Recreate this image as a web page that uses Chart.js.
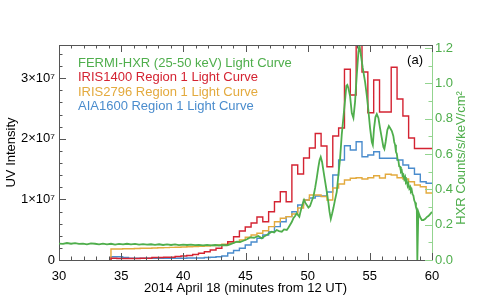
<!DOCTYPE html>
<html>
<head>
<meta charset="utf-8">
<script src="https://cdn.jsdelivr.net/npm/chart.js@4"></script>
<style>
  html, body { margin: 0; padding: 0; background: #fff; }
</style>
</head>
<body>
<canvas id="chart" width="491" height="307"></canvas>
<script>
// IRIS / AIA bin start times (minutes from 12 UT), last entry closes the final bin
const irisTimes = [34.18, 34.65, 35.12, 35.59, 36.06, 36.53, 37.00, 37.47, 37.94, 38.41,
  38.88, 39.34, 39.81, 40.28, 40.75, 41.22, 41.69, 42.16, 42.63, 43.10,
  43.57, 44.04, 44.51, 44.98, 45.45, 45.92, 46.39, 46.86, 47.33, 47.80,
  48.27, 48.73, 49.20, 49.67, 50.14, 50.61, 51.08, 51.55, 52.02, 52.49,
  52.96, 53.43, 53.90, 54.37, 54.84, 55.31, 55.78, 56.25, 56.72, 57.19,
  57.66, 58.12, 58.59, 59.06, 59.53, 60.00];

// UV intensity, units of 1e7
const iris1400 = [0.03, 0.025, 0.025, 0.025, 0.025, 0.028, 0.028, 0.041, 0.041, 0.045,
  0.045, 0.058, 0.066, 0.074, 0.091, 0.111, 0.137, 0.165, 0.193, 0.248,
  0.302, 0.384, 0.479, 0.545, 0.611, 0.710, 0.632, 0.797, 0.962, 1.127,
  0.962, 1.568, 1.419, 1.683, 1.848, 2.087, 1.881, 1.540, 2.046, 2.178,
  3.147, 2.723, 3.62, 3.102, 2.431, 2.970, 2.442, 2.442, 3.180, 2.657,
  2.376, 2.013, 1.840, 1.840, 1.840];
const iris2796 = [0.182, 0.182, 0.185, 0.186, 0.190, 0.193, 0.195, 0.198, 0.201, 0.205,
  0.208, 0.211, 0.215, 0.218, 0.223, 0.228, 0.231, 0.239, 0.248, 0.259,
  0.276, 0.297, 0.330, 0.375, 0.413, 0.441, 0.483, 0.550, 0.632, 0.688,
  0.715, 0.759, 0.858, 0.990, 1.073, 1.073, 1.048, 0.990, 1.188, 1.254,
  1.320, 1.348, 1.358, 1.337, 1.358, 1.391, 1.353, 1.414, 1.403, 1.358,
  1.337, 1.292, 1.238, 1.210, 1.106];
const aia1600 = [0.054, 0.054, 0.041, 0.028, 0.028, 0.028, 0.028, 0.028, 0.028, 0.028,
  0.028, 0.030, 0.030, 0.033, 0.033, 0.033, 0.041, 0.045, 0.053, 0.066,
  0.116, 0.157, 0.193, 0.248, 0.297, 0.358, 0.413, 0.467, 0.550, 0.632,
  0.715, 0.797, 0.908, 0.990, 1.023, 1.056, 1.056, 1.122, 1.403, 1.650,
  1.886, 1.815, 1.952, 1.705, 1.733, 1.787, 1.678, 1.678, 1.678, 1.650,
  1.568, 1.513, 1.414, 1.292, 1.266];

// FERMI HXR 25-50 keV, counts/s/keV/cm2
const hxrTimes = [30.00, 30.32, 30.64, 30.97, 31.29, 31.61, 31.93, 32.25, 32.57, 32.90,
  33.22, 33.54, 33.86, 34.18, 34.51, 34.83, 35.15, 35.47, 35.79, 36.11,
  36.44, 36.76, 37.08, 37.40, 37.72, 38.05, 38.37, 38.69, 39.01, 39.33,
  39.65, 39.98, 40.30, 40.62, 40.94, 41.26, 41.58, 41.91, 42.23, 42.55,
  42.87, 43.19, 43.52, 43.76, 44.00, 44.30, 44.56, 44.83, 45.08, 45.37,
  45.69, 46.03, 46.31, 46.49, 46.71, 46.89, 47.11, 47.30, 47.51, 47.70,
  47.92, 48.10, 48.32, 48.46, 48.58, 48.72, 48.85, 48.99, 49.12, 49.25,
  49.33, 49.43, 49.53, 49.63, 49.71, 49.82, 49.93, 50.06, 50.19, 50.33,
  50.46, 50.60, 50.73, 50.86, 50.96, 51.05, 51.16, 51.26, 51.40, 51.54,
  51.67, 51.76, 51.86, 51.96, 52.07, 52.20, 52.34, 52.47, 52.61, 52.74,
  52.87, 53.01, 53.11, 53.19, 53.27, 53.41, 53.55, 53.68, 53.81, 53.95,
  54.08, 54.16, 54.27, 54.43, 54.62, 54.75, 54.88, 55.02, 55.16, 55.24,
  55.34, 55.45, 55.56, 55.69, 55.82, 55.96, 56.09, 56.17, 56.27, 56.41,
  56.53, 56.63, 56.77, 56.89, 56.96, 57.03, 57.10, 57.17, 57.23, 57.30,
  57.36, 57.43, 57.50, 57.57, 57.63, 57.70, 57.77, 57.84, 57.90, 57.97,
  58.04, 58.10, 58.17, 58.24, 58.30, 58.37, 58.44, 58.50, 58.57, 58.64,
  58.71, 58.78, 58.82, 58.90, 59.04, 59.18, 59.31, 59.44, 59.58, 59.71,
  59.85, 60.00];
const hxrFlux = [0.093, 0.091, 0.096, 0.092, 0.095, 0.091, 0.093, 0.089, 0.094, 0.092,
  0.088, 0.093, 0.089, 0.092, 0.087, 0.091, 0.088, 0.092, 0.089, 0.091,
  0.087, 0.090, 0.087, 0.089, 0.086, 0.089, 0.085, 0.088, 0.085, 0.088,
  0.084, 0.087, 0.085, 0.087, 0.084, 0.086, 0.083, 0.086, 0.083, 0.085,
  0.082, 0.085, 0.083, 0.089, 0.095, 0.104, 0.102, 0.109, 0.116, 0.128,
  0.126, 0.136, 0.123, 0.133, 0.142, 0.150, 0.160, 0.156, 0.170, 0.164,
  0.160, 0.173, 0.170, 0.184, 0.198, 0.215, 0.236, 0.249, 0.264, 0.252,
  0.245, 0.275, 0.302, 0.325, 0.340, 0.323, 0.311, 0.297, 0.306, 0.334,
  0.358, 0.408, 0.464, 0.526, 0.566, 0.583, 0.555, 0.509, 0.447, 0.385,
  0.323, 0.272, 0.232, 0.260, 0.294, 0.340, 0.385, 0.481, 0.577, 0.708,
  0.804, 0.906, 0.985, 0.991, 0.974, 0.928, 0.832, 0.804, 0.894, 1.047,
  1.177, 1.217, 1.166, 1.087, 1.007, 0.934, 0.849, 0.747, 0.668, 0.651,
  0.747, 0.809, 0.826, 0.804, 0.747, 0.691, 0.640, 0.628, 0.668, 0.736,
  0.758, 0.747, 0.730, 0.702, 0.668, 0.652, 0.612, 0.601, 0.570, 0.562,
  0.530, 0.528, 0.500, 0.506, 0.478, 0.484, 0.458, 0.470, 0.440, 0.448,
  0.420, 0.432, 0.405, 0.414, 0.388, 0.396, 0.370, 0.366, 0.338, 0.326,
  0.300, 0.283, 0.000, 0.272, 0.243, 0.226, 0.226, 0.232, 0.243, 0.249,
  0.260, 0.272];

const GREEN = "#4fae4c";
const RED = "#d42332";
const YELLOW = "#e3aa3e";
const BLUE = "#4a8ccd";

function stepData(values) {
  // start from zero at the first bin edge, hold last value to the end
  const pts = [{ x: irisTimes[0], y: 0 }];
  irisTimes.forEach((t, i) => {
    pts.push({ x: t, y: values[Math.min(i, values.length - 1)] });
  });
  return pts;
}

Chart.defaults.font.family = "'Liberation Sans', Arial, sans-serif";
Chart.defaults.font.size = 13;
Chart.defaults.color = "#000";

const extras = {
  id: "extras",
  afterDraw(chart) {
    const { ctx, chartArea: a, scales } = chart;
    ctx.save();
    ctx.lineWidth = 1;

    // top frame
    ctx.strokeStyle = "#555";
    ctx.beginPath();
    ctx.moveTo(a.left, a.top + 0.5);
    ctx.lineTo(a.right, a.top + 0.5);
    ctx.stroke();

    // x ticks, inside, bottom and top
    for (let m = 30; m <= 60; m++) {
      const px = Math.round(scales.x.getPixelForValue(m)) + 0.5;
      const len = m % 5 === 0 ? 7 : 3.5;
      ctx.beginPath();
      ctx.moveTo(px, a.bottom);
      ctx.lineTo(px, a.bottom - len);
      ctx.moveTo(px, a.top);
      ctx.lineTo(px, a.top + len);
      ctx.stroke();
    }
    // left ticks
    for (let i = 0; i <= 17; i++) {
      const py = Math.round(scales.y.getPixelForValue(i * 0.2)) + 0.5;
      const len = i % 5 === 0 ? 7 : 3.5;
      ctx.beginPath();
      ctx.moveTo(a.left, py);
      ctx.lineTo(a.left + len, py);
      ctx.stroke();
    }
    // right ticks (green)
    ctx.strokeStyle = "#93d48f";
    for (let i = 0; i <= 12; i++) {
      const py = Math.round(scales.yHxr.getPixelForValue(i * 0.1)) + 0.5;
      const len = i % 2 === 0 ? 7 : 3.5;
      ctx.beginPath();
      ctx.moveTo(a.right, py);
      ctx.lineTo(a.right - len, py);
      ctx.stroke();
    }

    // legend text
    ctx.font = "13px 'Liberation Sans', Arial, sans-serif";
    ctx.textAlign = "left";
    ctx.textBaseline = "middle";
    chart.data.datasets.forEach((ds, i) => {
      ctx.fillStyle = ds.borderColor;
      ctx.fillText(ds.label, 78, 63.5 + i * 14.3);
    });

    // panel label
    ctx.fillStyle = "#000";
    ctx.textAlign = "right";
    ctx.fillText("(a)", 423, 60);

    // right axis title, reads bottom to top
    ctx.translate(461, 158);
    ctx.rotate(-Math.PI / 2);
    ctx.textAlign = "center";
    ctx.fillStyle = GREEN;
    ctx.fillText("HXR Counts/s/keV/cm\u00b2", 0, 0);
    ctx.restore();
  }
};

new Chart(document.getElementById("chart"), {
  type: "line",
  data: {
    datasets: [
      {
        label: "FERMI-HXR (25-50 keV) Light Curve",
        data: hxrTimes.map((t, i) => ({ x: t, y: hxrFlux[i] })),
        yAxisID: "yHxr",
        borderColor: GREEN,
        borderWidth: 1.8,
        pointRadius: 0,
        tension: 0
      },
      {
        label: "IRIS1400 Region 1 Light Curve",
        data: stepData(iris1400),
        yAxisID: "y",
        borderColor: RED,
        borderWidth: 1.4,
        pointRadius: 0,
        stepped: true
      },
      {
        label: "IRIS2796 Region 1 Light Curve",
        data: stepData(iris2796),
        yAxisID: "y",
        borderColor: YELLOW,
        borderWidth: 1.4,
        pointRadius: 0,
        stepped: true
      },
      {
        label: "AIA1600 Region 1 Light Curve",
        data: stepData(aia1600),
        yAxisID: "y",
        borderColor: BLUE,
        borderWidth: 1.4,
        pointRadius: 0,
        stepped: true
      }
    ]
  },
  options: {
    responsive: false,
    devicePixelRatio: 1,
    animation: false,
    layout: { padding: { top: 45, left: 0, right: 0, bottom: 0 } },
    plugins: {
      legend: { display: false },
      tooltip: { enabled: false }
    },
    scales: {
      x: {
        type: "linear",
        min: 30,
        max: 60,
        grid: { display: false, drawTicks: false },
        border: { display: true, color: "#555" },
        ticks: { stepSize: 5, padding: 9, maxRotation: 0, includeBounds: false },
        title: {
          display: true,
          text: "2014 April 18 (minutes from 12 UT)",
          padding: { top: 0, bottom: 11 }
        },
        afterFit: s => { s.height = 47; }
      },
      y: {
        type: "linear",
        position: "left",
        min: 0,
        max: 3.548,
        grid: { display: false, drawTicks: false },
        border: { display: true, color: "#555" },
        ticks: {
          stepSize: 1,
          padding: 4,
          includeBounds: false,
          callback: v => v === 0 ? "0" : v + "\u00d710\u2077"
        },
        title: {
          display: true,
          text: "UV Intensity",
          padding: { top: 4, bottom: 0 }
        },
        afterFit: s => { s.width = 59; }
      },
      yHxr: {
        type: "linear",
        position: "right",
        min: 0,
        max: 1.217,
        grid: { display: false, drawTicks: false },
        border: { display: true, color: "#93d48f" },
        ticks: {
          stepSize: 0.2,
          padding: 3,
          color: GREEN,
          includeBounds: false,
          callback: v => v.toFixed(1)
        },
        afterFit: s => { s.width = 59; }
      }
    }
  },
  plugins: [extras]
});
</script>
</body>
</html>
